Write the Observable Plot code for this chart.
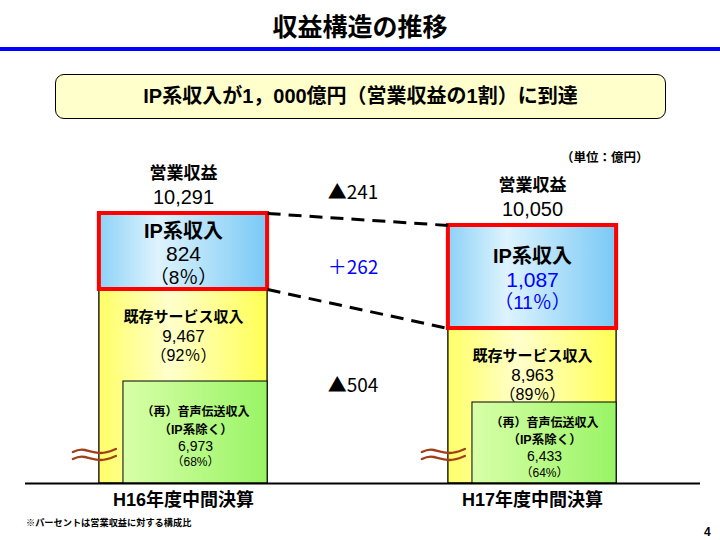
<!DOCTYPE html>
<html>
<head>
<meta charset="utf-8">
<script src="https://cdn.jsdelivr.net/npm/d3@7"></script>
<script src="https://cdn.jsdelivr.net/npm/@observablehq/plot@0.6"></script>
<style>
  body { margin: 0; background: #fff; }
  #slide { position: relative; width: 720px; height: 540px; overflow: hidden; color: #000;
           font-family: "Liberation Sans", "Noto Sans CJK JP", sans-serif; }
  #chart { position: absolute; left: 0; top: 0; }
  #title { position: absolute; left: 0; top: 10px; width: 720px; text-align: center; font-size: 25px;
           font-weight: bold; line-height: 30px; font-family: "Noto Sans CJK JP", sans-serif; }
  #rule { position: absolute; left: 0; top: 47px; width: 720px; height: 4px; background: #0000ff; }
  #callout { position: absolute; left: 55px; top: 74px; width: 609px; height: 43px; border: 1.5px solid #000;
             border-radius: 9px; background: #ffffcc; text-align: center; line-height: 43px; font-size: 20px;
             font-weight: bold; }
  #unit { position: absolute; left: 561px; top: 150px; font-size: 12.5px; font-weight: bold; line-height: 16px; }
  #note { position: absolute; left: 26px; top: 517px; font-size: 9.2px; font-weight: bold; line-height: 12px; }
  #page { position: absolute; left: 704px; top: 525px; font-size: 12px; font-weight: bold; line-height: 14px; }
</style>
</head>
<body>
<div id="slide">
  <div id="chart"></div>
  <div id="title">収益構造の推移</div>
  <div id="rule"></div>
  <div id="callout">IP系収入が1，000億円（営業収益の1割）に到達</div>
  <div id="unit">（単位：億円）</div>
  <div id="note">※パーセントは営業収益に対する構成比</div>
  <div id="page">4</div>
</div>
<script>
// ---- data (億円) ----
const periods = ["H16年度中間決算", "H17年度中間決算"];
const totalRevenue = [10291, 10050];
const ipRevenue = [824, 1087];
const ipShare = [8, 11];
const existingRevenue = [9467, 8963];
const existingShare = [92, 89];
const voiceRevenue = [6973, 6433];
const voiceShare = [68, 64];
const changeLabels = ["▲241", "＋262", "▲504"];

// ---- broken (schematic, not to scale) y axis: piecewise transform ----
const yKnots = [0, 6433, 6973, 8963, 9467, 10050, 10291];
const yPixels = [483, 402, 381, 328, 289, 225, 213];
const yHelper = d3.scaleLinear().domain(yKnots).range(yPixels);
const midOf = (a, b) => yHelper.invert((yHelper(a) + yHelper(b)) / 2);

const half = 0.241, greenInset = 0.172;
const fmt = d3.format(",");

const bars = periods.map((p, i) => ({
  i, p,
  total: totalRevenue[i], ip: ipRevenue[i], ipShare: ipShare[i],
  existing: existingRevenue[i], existingShare: existingShare[i],
  voice: voiceRevenue[i], voiceShare: voiceShare[i],
  ipMid: midOf(existingRevenue[i], totalRevenue[i]),
  voiceMid: midOf(0, voiceRevenue[i]),
  ipColor: i === 1 ? "#0000ff" : "#000000"
}));

const links = [
  {x1: 0 + half, y1: totalRevenue[0], x2: 1 - half, y2: totalRevenue[1]},
  {x1: 0 + half, y1: existingRevenue[0], x2: 1 - half, y2: existingRevenue[1]}
];

const changeTotal = [{label: changeLabels[0], y: midOf(totalRevenue[0], totalRevenue[1])}];
const changeIP = [{label: changeLabels[1], y: midOf(bars[0].ipMid, bars[1].ipMid)}];
const changeExisting = [{label: changeLabels[2], y: midOf(voiceRevenue[0], voiceRevenue[1])}];

function gradients() {
  const defs = d3.create("svg:defs");
  const mk = (id, stops) => {
    const lg = defs.append("linearGradient").attr("id", id)
      .attr("x1", 0).attr("x2", 1).attr("y1", 0).attr("y2", 0);
    for (const [o, c] of stops) lg.append("stop").attr("offset", o).attr("stop-color", c);
  };
  mk("gYellow", [[0, "#ffff66"], [0.42, "#ffffcc"], [1, "#ffff55"]]);
  mk("gBlue", [[0, "#8dd2f7"], [0.35, "#def3fe"], [1, "#79c9f5"]]);
  mk("gGreen", [[0, "#d8ffa8"], [1, "#99f466"]]);
  return defs.node();
}

function breakMarks(index, scales) {
  const g = d3.create("svg:g").attr("fill", "none").attr("stroke", "#a0401a")
    .attr("stroke-width", 2.4).attr("stroke-linecap", "round");
  const y0 = yHelper(0); // y scale is identity in transformed space
  for (const b of bars) {
    const x0 = scales.x(b.i - half) - 26;
    for (const off of [-33, -26]) {
      g.append("path").attr("d", `M${x0},${y0 + off + 2} c4,-2 8,-3 12,-2 s10,3 16,3 s10,-2 15,-4`);
    }
  }
  return g.node();
}

const font = '"Liberation Sans", "Noto Sans CJK JP", sans-serif';
const cjk = '"Noto Sans CJK JP", "Liberation Sans", sans-serif';
const vx = d => d.i + (half - greenInset) / 2;

const chart = Plot.plot({
  width: 720, height: 540,
  marginLeft: 25, marginRight: 20, marginTop: 0, marginBottom: 0,
  style: {background: "transparent", fontFamily: font, color: "#000"},
  x: {domain: [-0.4527, 1.4814], axis: null},
  y: {transform: v => yHelper(v), domain: [0, 540], range: [0, 540], axis: null},
  color: {type: "identity"},
  marks: [
    gradients,
    Plot.rect(bars, {x1: d => d.i - half, x2: d => d.i + half, y1: 0, y2: "existing",
      fill: "url(#gYellow)", stroke: "#000", strokeWidth: 1.3}),
    Plot.rect(bars, {x1: d => d.i - greenInset, x2: d => d.i + half, y1: 0, y2: "voice",
      fill: "url(#gGreen)", stroke: "#000", strokeWidth: 1}),
    Plot.rect(bars, {x1: d => d.i - half, x2: d => d.i + half, y1: "existing", y2: "total",
      fill: "url(#gBlue)", stroke: "#ff0000", strokeWidth: 4}),
    Plot.ruleY([0], {stroke: "#000", strokeWidth: 2}),
    breakMarks,
    Plot.link(links, {x1: "x1", y1: "y1", x2: "x2", y2: "y2", stroke: "#000", strokeWidth: 3,
      strokeDasharray: "13,8"}),
    Plot.text(bars, {x: "i", y: "total", text: () => "営業収益", dy: -40, fontSize: 17, fontWeight: "bold"}),
    Plot.text(bars, {x: "i", y: "total", text: d => fmt(d.total), dy: -16, fontSize: 20}),
    Plot.text(bars, {x: "i", y: "ipMid", text: () => "IP系収入", dy: -20, fontSize: 20, fontWeight: "bold"}),
    Plot.text(bars, {x: "i", y: "ipMid", text: d => fmt(d.ip), dy: 3, fontSize: 21, fill: "ipColor"}),
    Plot.text(bars, {x: "i", y: "ipMid", text: d => `（${d.ipShare}％）`, dy: 26, fontSize: 19, fill: "ipColor"}),
    Plot.text(bars, {x: "i", y: "existing", text: () => "既存サービス収入", dy: 28, fontSize: 15, fontWeight: "bold"}),
    Plot.text(bars, {x: "i", y: "existing", text: d => fmt(d.existing), dy: 47, fontSize: 17}),
    Plot.text(bars, {x: "i", y: "existing", text: d => `（${d.existingShare}％）`, dy: 66, fontSize: 16}),
    Plot.text(bars, {x: vx, y: "voiceMid", text: () => "（再）音声伝送収入", dy: -20, fontSize: 12, fontWeight: "bold"}),
    Plot.text(bars, {x: vx, y: "voiceMid", text: () => "（IP系除く）", dy: -3, fontSize: 12.5, fontWeight: "bold"}),
    Plot.text(bars, {x: vx, y: "voiceMid", text: d => fmt(d.voice), dy: 14, fontSize: 14}),
    Plot.text(bars, {x: vx, y: "voiceMid", text: d => `（${d.voiceShare}%）`, dy: 30, fontSize: 12}),
    Plot.text(bars, {x: "i", y: 0, text: "p", dy: 17, fontSize: 18, fontWeight: "bold"}),
    Plot.text(changeTotal, {x: () => 0.5, y: "y", text: "label", dy: -27, dx: -5, fontSize: 19, fontFamily: cjk}),
    Plot.text(changeIP, {x: () => 0.5, y: "y", text: "label", dy: 4, dx: -5, fontSize: 19, fontFamily: cjk, fill: "#0000ff"}),
    Plot.text(changeExisting, {x: () => 0.5, y: "y", text: "label", dy: -6, dx: -5, fontSize: 19, fontFamily: cjk})
  ]
});
document.getElementById("chart").appendChild(chart);
</script>
</body>
</html>
